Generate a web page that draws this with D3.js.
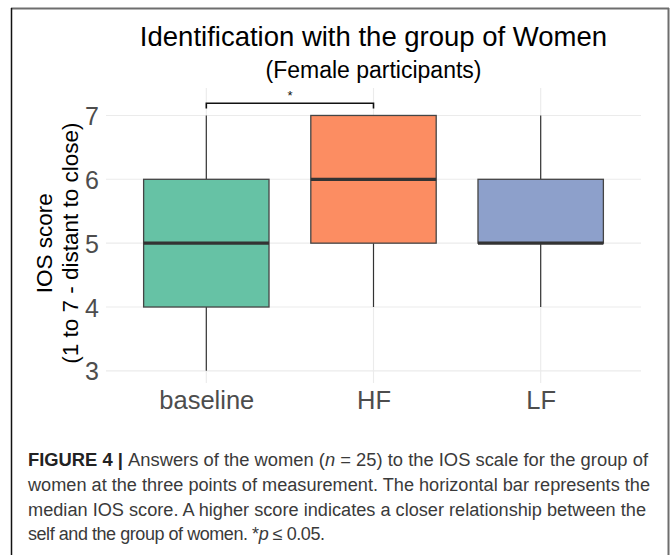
<!DOCTYPE html>
<html>
<head>
<meta charset="utf-8">
<script src="https://cdn.jsdelivr.net/npm/d3@7"></script>
<style>
  html, body { margin: 0; padding: 0; background: #fff; }
  svg { display: block; }
</style>
</head>
<body>
<script>
// ---- data ----
const categories = ["baseline", "HF", "LF"];
const whiskerLow = [3, 4, 4];
const q1 = [4, 5, 5];
const median = [5, 6, 5];
const q3 = [6, 7, 6];
const whiskerHigh = [7, 7, 7];
const fillColors = ["#66C2A5", "#FC8D62", "#8DA0CB"];
const yTicks = [3, 4, 5, 6, 7];
const sigPair = ["baseline", "HF"];
const sigLevel = 7.19;
const sigTickLevel = 7.11;
const sigLabelLevel = 7.33;
const sigLabel = "*";
const titleText = "Identification with the group of Women";
const subtitleText = "(Female participants)";
const yTitleLines = ["IOS score", "(1 to 7 - distant to close)"];

const W = 670, H = 555;
const svg = d3.select("body").append("svg").attr("width", W).attr("height", H);

// figure frame
svg.append("line").attr("x1", 11).attr("x2", 669).attr("y1", 8.5).attr("y2", 8.5)
  .attr("stroke", "#6e6e6e").attr("stroke-width", 2);
svg.append("line").attr("x1", 11.5).attr("x2", 11.5).attr("y1", 8).attr("y2", H)
  .attr("stroke", "#111").attr("stroke-width", 1.5);
svg.append("line").attr("x1", 668.5).attr("x2", 668.5).attr("y1", 8).attr("y2", H)
  .attr("stroke", "#6e6e6e").attr("stroke-width", 2);

const panel = { left: 106, right: 641, top: 88, bottom: 383 };
const x = d3.scalePoint().domain(categories).range([panel.left, panel.right]).padding(0.6);
const y = d3.scaleLinear().domain([2.81, 7.43]).range([panel.bottom, panel.top]);
const boxW = x.step() * 0.75;

// gridlines
const grid = svg.append("g");
grid.selectAll("line.h").data(yTicks).join("line")
  .attr("x1", panel.left).attr("x2", panel.right)
  .attr("y1", d => y(d)).attr("y2", d => y(d))
  .attr("stroke", "#ebebeb").attr("stroke-width", 1.1);
grid.selectAll("line.v").data(categories).join("line")
  .attr("x1", d => x(d)).attr("x2", d => x(d))
  .attr("y1", panel.top).attr("y2", panel.bottom)
  .attr("stroke", "#ebebeb").attr("stroke-width", 1.1);

// axes (tick labels only)
const yAxis = svg.append("g").attr("transform", `translate(${panel.left},0)`)
  .call(d3.axisLeft(y).tickValues(yTicks).tickSize(0).tickPadding(7).tickFormat(d3.format("d")));
yAxis.select(".domain").remove();
yAxis.selectAll("text").attr("font-family", "Liberation Sans, Arial, sans-serif")
  .attr("font-size", 25).attr("fill", "#4d4d4d").attr("dy", "0.36em");

const xAxis = svg.append("g").attr("transform", `translate(0,${panel.bottom})`)
  .call(d3.axisBottom(x).tickSize(0).tickPadding(8));
xAxis.select(".domain").remove();
xAxis.selectAll("text").attr("font-family", "Liberation Sans, Arial, sans-serif")
  .attr("font-size", 25.5).attr("fill", "#4d4d4d");

// boxes
const data = categories.map((c, i) => ({
  c, lo: whiskerLow[i], q1: q1[i], med: median[i], q3: q3[i], hi: whiskerHigh[i], fill: fillColors[i]
}));
const boxes = svg.append("g").selectAll("g").data(data).join("g");
boxes.append("line").attr("x1", d => x(d.c)).attr("x2", d => x(d.c))
  .attr("y1", d => y(d.q3)).attr("y2", d => y(d.hi))
  .attr("stroke", "#333").attr("stroke-width", 1.2);
boxes.append("line").attr("x1", d => x(d.c)).attr("x2", d => x(d.c))
  .attr("y1", d => y(d.q1)).attr("y2", d => y(d.lo))
  .attr("stroke", "#333").attr("stroke-width", 1.2);
boxes.append("rect")
  .attr("x", d => x(d.c) - boxW / 2).attr("width", boxW)
  .attr("y", d => y(d.q3)).attr("height", d => y(d.q1) - y(d.q3))
  .attr("fill", d => d.fill).attr("stroke", "#454545").attr("stroke-width", 1.3);
boxes.append("line")
  .attr("x1", d => x(d.c) - boxW / 2).attr("x2", d => x(d.c) + boxW / 2)
  .attr("y1", d => y(d.med)).attr("y2", d => y(d.med))
  .attr("stroke", "#333").attr("stroke-width", 3.2);

// significance bracket
const sx1 = x(sigPair[0]), sx2 = x(sigPair[1]);
svg.append("path")
  .attr("d", `M${sx1},${y(sigTickLevel)}V${y(sigLevel)}H${sx2}V${y(sigTickLevel)}`)
  .attr("fill", "none").attr("stroke", "#111").attr("stroke-width", 1.6);
svg.append("text").attr("x", (sx1 + sx2) / 2).attr("y", y(sigLabelLevel) + 6)
  .attr("text-anchor", "middle").attr("font-family", "Liberation Sans, Arial, sans-serif")
  .attr("font-size", 13).attr("fill", "#111").text(sigLabel);

// titles
const cx = (panel.left + panel.right) / 2;
svg.append("text").attr("x", cx).attr("y", 46).attr("text-anchor", "middle")
  .attr("font-family", "Liberation Sans, Arial, sans-serif").attr("font-size", 27.5)
  .attr("fill", "#000").text(titleText);
svg.append("text").attr("x", cx).attr("y", 77.5).attr("text-anchor", "middle")
  .attr("font-family", "Liberation Sans, Arial, sans-serif").attr("font-size", 23)
  .attr("fill", "#000").text(subtitleText);

// y axis title
const yMid = (y(3) + y(7)) / 2;
const yt = svg.append("text").attr("transform", `translate(52,${yMid}) rotate(-90)`)
  .attr("text-anchor", "middle").attr("font-family", "Liberation Sans, Arial, sans-serif")
  .attr("font-size", 22.5).attr("fill", "#000");
yt.append("tspan").attr("x", 0).attr("dy", 0).text(yTitleLines[0]);
yt.append("tspan").attr("x", 0).attr("dy", 26).text(yTitleLines[1]);

// caption
const capFont = "Liberation Sans, Arial, sans-serif";
const capLines = [
  { parts: [{ t: "FIGURE 4 | ", b: true }, { t: "Answers of the women (" }, { t: "n", i: true }, { t: " = 25) to the IOS scale for the group of" }], w: 620, yb: 466 },
  { parts: [{ t: "women at the three points of measurement. The horizontal bar represents the" }], w: 622, yb: 491 },
  { parts: [{ t: "median IOS score. A higher score indicates a closer relationship between the" }], w: 618, yb: 516 },
  { parts: [{ t: "self and the group of women. *" }, { t: "p", i: true }, { t: " \u2264 0.05." }], w: null, yb: 540 }
];
capLines.forEach(l => {
  const t = svg.append("text").attr("x", 28).attr("y", l.yb)
    .attr("font-family", capFont).attr("font-size", 18).attr("fill", "#3a3a3a");
  if (l.w) t.attr("textLength", l.w).attr("lengthAdjust", "spacingAndGlyphs");
  else t.attr("letter-spacing", -0.45);
  l.parts.forEach(p => {
    const s = t.append("tspan").text(p.t);
    if (p.b) s.attr("font-weight", "bold").attr("fill", "#222");
    if (p.i) s.attr("font-style", "italic");
  });
});
</script>
</body>
</html>
